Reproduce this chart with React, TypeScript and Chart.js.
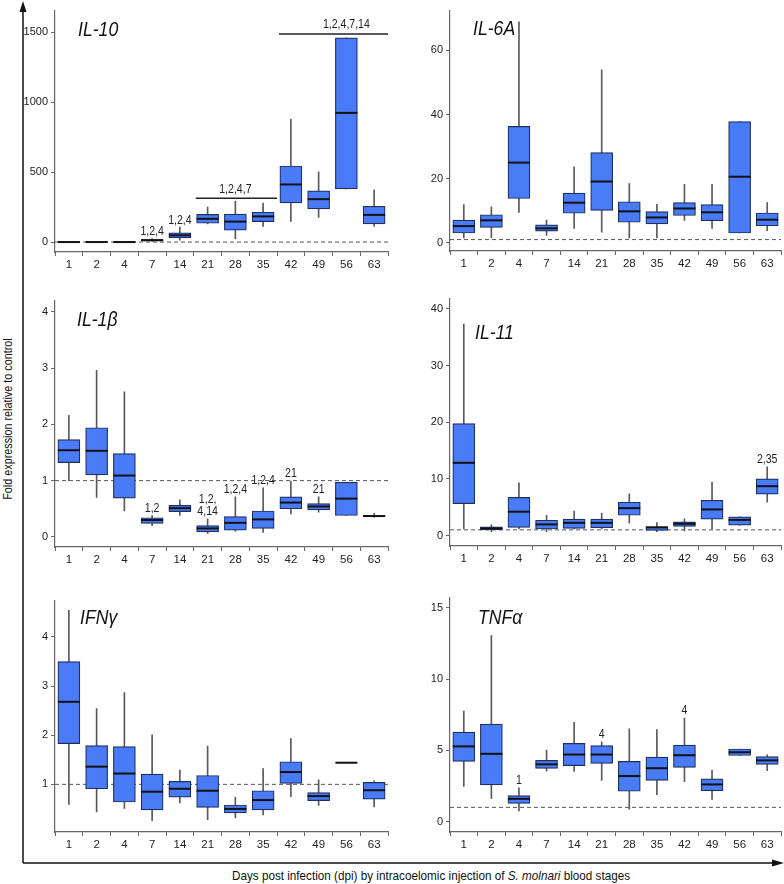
import { useEffect, useRef } from 'react';
import { Chart, registerables } from 'chart.js';
Chart.register(...registerables);

const FONT = "'Liberation Sans', Arial, sans-serif";

const DAYS = ['1', '2', '4', '7', '14', '21', '28', '35', '42', '49', '56', '63'];
const REF_LEVEL = 1;

// IL-10
const IL10_LO = [0, 0, 0, 6, 14, 130, 23, 112, 149, 177, 381, 112];
const IL10_Q1 = [0, 0, 0, 9, 30, 135, 86, 147, 281, 237, 381, 130];
const IL10_MED = [1, 1, 1, 14, 49, 167, 147, 184, 412, 307, 923, 195];
const IL10_Q3 = [3, 2, 2, 21, 67, 198, 200, 214, 544, 367, 1458, 256];
const IL10_HI = [4, 3, 3, 25, 107, 251, 293, 279, 877, 502, 1458, 374];
const IL10_SIG = ['', '', '', '1,2,4', '1,2,4', '', '', '', '', '', '', ''];
const IL10_TICKS = [0, 500, 1000, 1500];
const IL10_BRACKETS = [
  { from: 5, to: 7, at: 6, value: 314, text: '1,2,4,7' },
  { from: 8, to: 11, at: 10, value: 1486, text: '1,2,4,7,14' },
];

// IL-6A
const IL6_LO = [1.5, 1.5, 9.5, 2.3, 4.5, 3.3, 1.5, 1.5, 7.0, 4.5, 3.05, 3.8];
const IL6_Q1 = [3.05, 4.8, 13.8, 3.6, 9.2, 10.1, 6.4, 5.9, 8.5, 6.9, 3.05, 5.3];
const IL6_MED = [5.2, 7.0, 25.0, 4.5, 12.5, 19.1, 9.8, 7.9, 10.7, 9.5, 20.6, 7.2];
const IL6_Q3 = [7.1, 8.75, 36.3, 5.6, 15.5, 28.1, 12.8, 9.7, 12.5, 11.9, 37.8, 9.3];
const IL6_HI = [11.9, 11.2, 68.9, 7.1, 23.7, 53.9, 18.5, 12.0, 18.2, 18.2, 37.8, 12.5];
const IL6_SIG = ['', '', '', '', '', '', '', '', '', '', '', ''];
const IL6_TICKS = [0, 20, 40, 60];

// IL-1β
const IL1B_LO = [1.0, 0.7, 0.46, 0.2, 0.38, 0.06, 0.1, 0.08, 0.41, 0.44, 0.38, 0.35];
const IL1B_Q1 = [1.32, 1.1, 0.69, 0.24, 0.45, 0.09, 0.12, 0.15, 0.5, 0.48, 0.38, 0.36];
const IL1B_MED = [1.54, 1.53, 1.09, 0.3, 0.51, 0.15, 0.25, 0.31, 0.61, 0.54, 0.68, 0.37];
const IL1B_Q3 = [1.73, 1.94, 1.48, 0.34, 0.56, 0.2, 0.36, 0.46, 0.71, 0.59, 0.97, 0.38];
const IL1B_HI = [2.16, 2.96, 2.58, 0.38, 0.66, 0.32, 0.71, 0.87, 0.99, 0.71, 0.97, 0.42];
const IL1B_SIG = ['', '', '', '1,2', '', '1,2,\n4,14', '1,2,4', '1,2,4', '21', '21', '', ''];
const IL1B_TICKS = [0, 1, 2, 3, 4];

// IL-11
const IL11_LO = [1.15, 0.69, 1.15, 0.69, 1.15, 1.15, 2.19, 0.69, 0.81, 1.15, 1.84, 5.9];
const IL11_Q1 = [5.64, 0.98, 1.44, 1.15, 1.27, 1.38, 3.57, 0.92, 1.61, 2.88, 1.84, 7.3];
const IL11_MED = [12.83, 1.27, 4.2, 1.96, 2.24, 2.24, 4.83, 1.44, 2.07, 4.6, 2.76, 8.7];
const IL11_Q3 = [19.74, 1.55, 6.73, 2.7, 2.88, 2.88, 5.87, 1.55, 2.42, 6.22, 3.28, 10.0];
const IL11_HI = [37.3, 1.9, 9.3, 3.57, 4.3, 3.97, 7.37, 2.3, 2.94, 9.44, 3.28, 12.1];
const IL11_SIG = ['', '', '', '', '', '', '', '', '', '', '', '2,35'];
const IL11_TICKS = [0, 10, 20, 30, 40];

// IFNγ
const IFNG_LO = [0.59, 0.44, 0.51, 0.26, 0.62, 0.28, 0.32, 0.38, 0.75, 0.57, 1.44, 0.54];
const IFNG_Q1 = [1.83, 0.91, 0.64, 0.48, 0.74, 0.53, 0.42, 0.48, 1.02, 0.67, 1.44, 0.7];
const IFNG_MED = [2.68, 1.36, 1.22, 0.85, 0.91, 0.87, 0.5, 0.68, 1.25, 0.76, 1.44, 0.88];
const IFNG_Q3 = [3.5, 1.79, 1.77, 1.21, 1.06, 1.18, 0.58, 0.87, 1.46, 0.83, 1.44, 1.04];
const IFNG_HI = [4.54, 2.54, 2.87, 2.01, 1.29, 1.78, 0.74, 1.32, 1.93, 1.09, 1.44, 1.07];
const IFNG_SIG = ['', '', '', '', '', '', '', '', '', '', '', ''];
const IFNG_TICKS = [1, 2, 3, 4];

// TNFα
const TNFA_LO = [2.47, 1.62, 0.75, 3.54, 3.52, 2.9, 0.87, 1.9, 2.81, 1.55, 4.64, 3.57];
const TNFA_Q1 = [4.23, 2.58, 1.28, 3.73, 3.93, 4.09, 2.13, 2.9, 3.8, 2.17, 4.64, 4.02];
const TNFA_MED = [5.28, 4.76, 1.6, 4.02, 4.71, 4.71, 3.2, 3.75, 4.66, 2.61, 4.87, 4.3];
const TNFA_Q3 = [6.29, 6.84, 1.83, 4.3, 5.49, 5.33, 4.23, 4.53, 5.37, 3.0, 5.1, 4.57];
const TNFA_HI = [7.77, 13.06, 2.38, 5.03, 6.97, 5.6, 6.52, 6.47, 7.27, 3.61, 5.1, 4.69];
const TNFA_SIG = ['', '', '1', '', '', '4', '', '', '4', '', '', ''];
const TNFA_TICKS = [0, 5, 10, 15];

type Bracket = { from: number; to: number; at: number; value: number; text: string };
type Panel = {
  title: string;
  left: number; top: number; width: number; height: number; padRight: number;
  min: number; max: number; ticks: number[];
  lo: number[]; q1: number[]; med: number[]; q3: number[]; hi: number[];
  sig: string[]; brackets?: Bracket[];
  tdx: number; tdy: number;
};

const LEFT = { left: 15, width: 380, padRight: 7 };
const RIGHT = { left: 410, width: 374, padRight: 3 };

const PANELS: Panel[] = [
  { ...LEFT, title: 'IL-10', top: 1, height: 275, min: -70, max: 1653, ticks: IL10_TICKS,
    lo: IL10_LO, q1: IL10_Q1, med: IL10_MED, q3: IL10_Q3, hi: IL10_HI, sig: IL10_SIG,
    brackets: IL10_BRACKETS, tdx: 23, tdy: 20 },
  { ...RIGHT, title: 'IL-6A', top: 1, height: 274, min: -2.56, max: 72.4, ticks: IL6_TICKS,
    lo: IL6_LO, q1: IL6_Q1, med: IL6_MED, q3: IL6_Q3, hi: IL6_HI, sig: IL6_SIG, tdx: 23, tdy: 19 },
  { ...LEFT, title: 'IL-1β', top: 291, height: 280, min: -0.18, max: 4.2, ticks: IL1B_TICKS,
    lo: IL1B_LO, q1: IL1B_Q1, med: IL1B_MED, q3: IL1B_Q3, hi: IL1B_HI, sig: IL1B_SIG, tdx: 22, tdy: 20 },
  { ...RIGHT, title: 'IL-11', top: 289, height: 281, min: -1.85, max: 41.8, ticks: IL11_TICKS,
    lo: IL11_LO, q1: IL11_Q1, med: IL11_MED, q3: IL11_Q3, hi: IL11_HI, sig: IL11_SIG, tdx: 25, tdy: 35 },
  { ...LEFT, title: 'IFNγ', top: 591, height: 265, min: 0.03, max: 4.74, ticks: IFNG_TICKS,
    lo: IFNG_LO, q1: IFNG_Q1, med: IFNG_MED, q3: IFNG_Q3, hi: IFNG_HI, sig: IFNG_SIG, tdx: 25, tdy: 18 },
  { ...RIGHT, title: 'TNFα', top: 588, height: 268, min: -0.73, max: 15.73, ticks: TNFA_TICKS,
    lo: TNFA_LO, q1: TNFA_Q1, med: TNFA_MED, q3: TNFA_Q3, hi: TNFA_HI, sig: TNFA_SIG, tdx: 28, tdy: 21 },
];

// condensed text, like the narrow face of the source figure
function narrowText(ctx: CanvasRenderingContext2D, text: string, x: number, y: number, k: number) {
  ctx.save();
  ctx.translate(x, y);
  ctx.scale(k, 1);
  ctx.fillText(text, 0, 0);
  ctx.restore();
}

function BoxPanel({ p }: { p: Panel }) {
  const ref = useRef<HTMLCanvasElement>(null);

  useEffect(() => {
    const extras = {
      id: 'boxExtras',
      beforeDatasetsDraw(chart: any) {
        const { ctx, chartArea: a, scales } = chart;
        const py = scales.y.getPixelForValue(REF_LEVEL);
        ctx.save();
        ctx.strokeStyle = '#555';
        ctx.lineWidth = 1;
        ctx.setLineDash([4, 3]);
        ctx.beginPath();
        ctx.moveTo(a.left, py);
        ctx.lineTo(a.right, py);
        ctx.stroke();
        ctx.restore();
      },
      afterDatasetsDraw(chart: any) {
        const { ctx, chartArea: a, scales } = chart;
        const x = scales.x, y = scales.y;
        const slot = x.width / DAYS.length;
        ctx.save();
        // medians
        const meta = chart.getDatasetMeta(1);
        ctx.strokeStyle = '#111';
        ctx.lineWidth = 2;
        meta.data.forEach((bar: any, i: number) => {
          const my = y.getPixelForValue(p.med[i]);
          ctx.beginPath();
          ctx.moveTo(bar.x - bar.width / 2, my);
          ctx.lineTo(bar.x + bar.width / 2, my);
          ctx.stroke();
        });
        // significance labels
        ctx.fillStyle = '#222';
        ctx.font = `12px ${FONT}`;
        ctx.textAlign = 'center';
        ctx.textBaseline = 'bottom';
        p.sig.forEach((s, i) => {
          if (!s) return;
          const lines = s.split('\n');
          const base = y.getPixelForValue(p.hi[i]) - 1;
          lines.forEach((ln, k) => {
            narrowText(ctx, ln, x.getPixelForValue(i), base - (lines.length - 1 - k) * 12.5, 0.88);
          });
        });
        // brackets
        (p.brackets || []).forEach((b) => {
          const by = y.getPixelForValue(b.value);
          ctx.strokeStyle = '#222';
          ctx.lineWidth = 1.6;
          ctx.beginPath();
          ctx.moveTo(x.getPixelForValue(b.from) - slot / 2 + 2, by);
          ctx.lineTo(Math.min(a.right, x.getPixelForValue(b.to) + slot / 2), by);
          ctx.stroke();
          narrowText(ctx, b.text, x.getPixelForValue(b.at), by - 3, 0.88);
        });
        // panel title
        ctx.font = `italic 21px ${FONT}`;
        ctx.textAlign = 'left';
        ctx.textBaseline = 'middle';
        ctx.fillStyle = '#111';
        narrowText(ctx, p.title, a.left + p.tdx, a.top + p.tdy, 0.84);
        ctx.restore();
      },
    };

    const chart = new Chart(ref.current!, {
      type: 'bar',
      data: {
        labels: DAYS,
        datasets: [
          {
            label: 'whisker',
            data: p.lo.map((v, i) => [v, p.hi[i]]) as any,
            backgroundColor: '#5a5a5a',
            barThickness: 1,
            grouped: false,
            order: 1,
          },
          {
            label: 'box',
            data: p.q1.map((v, i) => [v, p.q3[i]]) as any,
            backgroundColor: '#4a7bf7',
            borderColor: '#1f2f5e',
            borderWidth: 1.2,
            borderSkipped: false,
            barThickness: 22,
            grouped: false,
            order: 0,
          },
        ],
      },
      options: {
        animation: false,
        responsive: false,
        maintainAspectRatio: false,
        layout: { padding: { top: 4, right: p.padRight, left: 0, bottom: 0 } },
        plugins: { legend: { display: false }, tooltip: { enabled: false } },
        scales: {
          x: {
            afterFit: (s: any) => { s.height = 24; },
            ticks: { color: '#222', font: { size: 11.5, family: FONT }, padding: 2 },
            grid: { display: true, drawOnChartArea: false, offset: true, tickLength: 4, color: '#666' },
            border: { display: true, color: '#666', width: 1.2 },
          },
          y: {
            min: p.min,
            max: p.max,
            afterFit: (s: any) => { s.width = 40; },
            afterBuildTicks: (s: any) => { s.ticks = p.ticks.map((v) => ({ value: v })); },
            ticks: {
              color: '#222',
              font: { size: 11, family: FONT },
              padding: 3,
              callback: (v: any) => String(v),
            },
            grid: { display: true, drawOnChartArea: false, tickLength: 4, color: '#666' },
            border: { display: true, color: '#666', width: 1.2 },
          },
        },
      },
      plugins: [extras],
    });
    return () => chart.destroy();
  }, [p]);

  return (
    <canvas
      ref={ref}
      width={p.width}
      height={p.height}
      style={{ position: 'absolute', left: p.left, top: p.top, width: p.width, height: p.height }}
    />
  );
}

export default function App() {
  return (
    <div style={{ position: 'absolute', left: 0, top: 0, width: 784, height: 884, background: '#fff', fontFamily: FONT, color: '#111' }}>
      <svg width={784} height={884} style={{ position: 'absolute', left: 0, top: 0 }}>
        <line x1={23} y1={863} x2={23} y2={9} stroke="#111" strokeWidth={1.5} />
        <polygon points="23,1 19.5,12 26.5,12" fill="#111" />
        <line x1={23} y1={863} x2={773} y2={863} stroke="#111" strokeWidth={1.5} />
        <polygon points="784,863 772,859.5 772,866.5" fill="#111" />
      </svg>
      {PANELS.map((p) => <BoxPanel key={p.title} p={p} />)}
      <div
        style={{
          position: 'absolute', left: 8, top: 419, fontSize: 12, whiteSpace: 'nowrap',
          transform: 'translate(-50%, -50%) rotate(-90deg) scaleX(0.9)',
        }}
      >
        Fold expression relative to control
      </div>
      <div
        style={{
          position: 'absolute', left: 431, top: 875, fontSize: 13, whiteSpace: 'nowrap',
          transform: 'translate(-50%, -50%) scaleX(0.9)',
        }}
      >
        Days post infection (dpi) by intracoelomic injection of <i>S. molnari</i> blood stages
      </div>
    </div>
  );
}
